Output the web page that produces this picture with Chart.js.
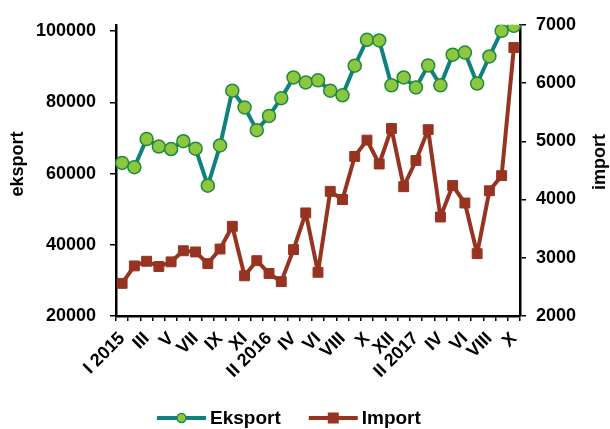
<!DOCTYPE html>
<html>
<head>
<meta charset="utf-8">
<script src="https://cdn.jsdelivr.net/npm/chart.js@4"></script>
<style>
    html, body { margin: 0; padding: 0; background: #fff; }
    #chart { display: block; }
</style>
</head>
<body>
<canvas id="chart" width="610" height="429"></canvas>
<script>
// months (only every second one gets a visible label)
const months = ['I 2015', 'II', 'III', 'IV', 'V', 'VI', 'VII', 'VIII', 'IX', 'X', 'XI', 'XII',
    'II 2016', 'III', 'IV', 'V', 'VI', 'VII', 'VIII', 'IX', 'X', 'XI', 'XII',
    'I', 'II 2017', 'III', 'IV', 'V', 'VI', 'VII', 'VIII', 'IX', 'X'];

const eksport = [63000, 61800, 69700, 67600, 66900, 69100, 67000, 56600, 67900, 83300,
    78600, 72200, 76200, 81200, 87000, 85600, 86200, 83300, 82000, 90300,
    97600, 97400, 84800, 87000, 84200, 90400, 84800, 93400, 94000, 85300,
    92900, 100100, 101500];

const importValues = [2560, 2860, 2940, 2850, 2930, 3120, 3100, 2900, 3150, 3540,
    2690, 2950, 2730, 2590, 3140, 3770, 2750, 4140, 4000, 4740,
    5020, 4610, 5220, 4220, 4670, 5200, 3700, 4240, 3940, 3070,
    4150, 4410, 6610];

const eksportTicks = [20000, 40000, 60000, 80000, 100000];
const importTicks = [2000, 3000, 4000, 5000, 6000, 7000];

const FONT = '"Liberation Sans", Arial, sans-serif';
const TEAL = '#0f817e';
const GREEN = '#8dc63f';
const DARK_GREEN = '#1f8a3b';
const BROWN = '#973421';

// axis titles (both read bottom-to-top) and the line+marker legend
const extrasPlugin = {
    id: 'extras',
    afterDraw(chart) {
        const ctx = chart.ctx;
        ctx.save();
        ctx.fillStyle = '#000';
        ctx.textAlign = 'center';
        ctx.textBaseline = 'middle';
        ctx.font = 'bold 18px ' + FONT;
        [['eksport', 18, 164], ['import', 600, 162]].forEach(([text, x, y]) => {
            ctx.save();
            ctx.translate(x, y);
            ctx.rotate(-Math.PI / 2);
            ctx.fillText(text, 0, 0);
            ctx.restore();
        });

        ctx.font = 'bold 19px ' + FONT;
        ctx.textAlign = 'left';
        const y = 418;
        let x = 157;
        chart.data.datasets.forEach(ds => {
            ctx.strokeStyle = ds.borderColor;
            ctx.lineWidth = 4;
            ctx.beginPath();
            ctx.moveTo(x, y);
            ctx.lineTo(x + 49, y);
            ctx.stroke();
            const cx = x + 24.5;
            ctx.fillStyle = ds.pointBackgroundColor;
            ctx.strokeStyle = ds.pointBorderColor;
            ctx.lineWidth = 1.5;
            if (ds.pointStyle === 'circle') {
                ctx.beginPath();
                ctx.arc(cx, y, 4.5, 0, Math.PI * 2);
                ctx.fill();
                ctx.stroke();
            } else {
                ctx.fillRect(cx - 5.5, y - 5.5, 11, 11);
            }
            ctx.fillStyle = '#000';
            ctx.fillText(ds.label, x + 53, y + 1);
            x += 53 + ctx.measureText(ds.label).width + 28;
        });
        ctx.restore();
    }
};

const axisLine = { display: true, color: '#000', width: 2.5 };
const tickFont = { family: FONT, size: 18, weight: 'bold' };

new Chart(document.getElementById('chart'), {
    type: 'line',
    data: {
        labels: months,
        datasets: [
            {
                label: 'Eksport',
                data: eksport,
                yAxisID: 'y',
                borderColor: TEAL,
                borderWidth: 4,
                borderJoinStyle: 'round',
                pointStyle: 'circle',
                pointRadius: 6.5,
                pointBackgroundColor: GREEN,
                pointBorderColor: DARK_GREEN,
                pointBorderWidth: 1.5,
                tension: 0
            },
            {
                label: 'Import',
                data: importValues,
                yAxisID: 'y2',
                borderColor: BROWN,
                borderWidth: 4,
                borderJoinStyle: 'round',
                pointStyle: 'rect',
                pointRadius: 7,
                pointBackgroundColor: BROWN,
                pointBorderColor: BROWN,
                pointBorderWidth: 1,
                tension: 0
            }
        ]
    },
    options: {
        responsive: false,
        animation: false,
        layout: { padding: { top: 19, left: 0, right: 0, bottom: 0 } },
        plugins: {
            legend: { display: false },
            tooltip: { enabled: false }
        },
        scales: {
            x: {
                offset: true,
                grid: { offset: true, drawOnChartArea: false, drawTicks: true, tickLength: 5, color: '#000', lineWidth: 1.5 },
                border: axisLine,
                ticks: {
                    autoSkip: false,
                    minRotation: 45,
                    maxRotation: 45,
                    padding: 7,
                    color: '#000',
                    font: tickFont,
                    callback: function (val, i) { return i % 2 === 0 ? this.getLabelForValue(val) : ''; }
                },
                afterFit: s => { s.height = 113; }
            },
            y: {
                position: 'left',
                min: eksportTicks[0],
                max: 101800,
                grid: { drawOnChartArea: false, tickLength: 6, color: '#000', lineWidth: 1.5 },
                border: axisLine,
                ticks: {
                    padding: 14,
                    color: '#000',
                    font: tickFont,
                    callback: v => String(v)
                },
                afterBuildTicks: s => { s.ticks = eksportTicks.map(v => ({ value: v })); },
                afterFit: s => { s.width = 116; }
            },
            y2: {
                position: 'right',
                min: importTicks[0],
                max: importTicks[importTicks.length - 1],
                grid: { drawOnChartArea: false, tickLength: 6, color: '#000', lineWidth: 1.5 },
                border: axisLine,
                ticks: {
                    padding: 10,
                    color: '#000',
                    font: tickFont,
                    callback: v => String(v)
                },
                afterBuildTicks: s => { s.ticks = importTicks.map(v => ({ value: v })); },
                afterFit: s => { s.width = 90; }
            }
        }
    },
    plugins: [extrasPlugin]
});
</script>
</body>
</html>
